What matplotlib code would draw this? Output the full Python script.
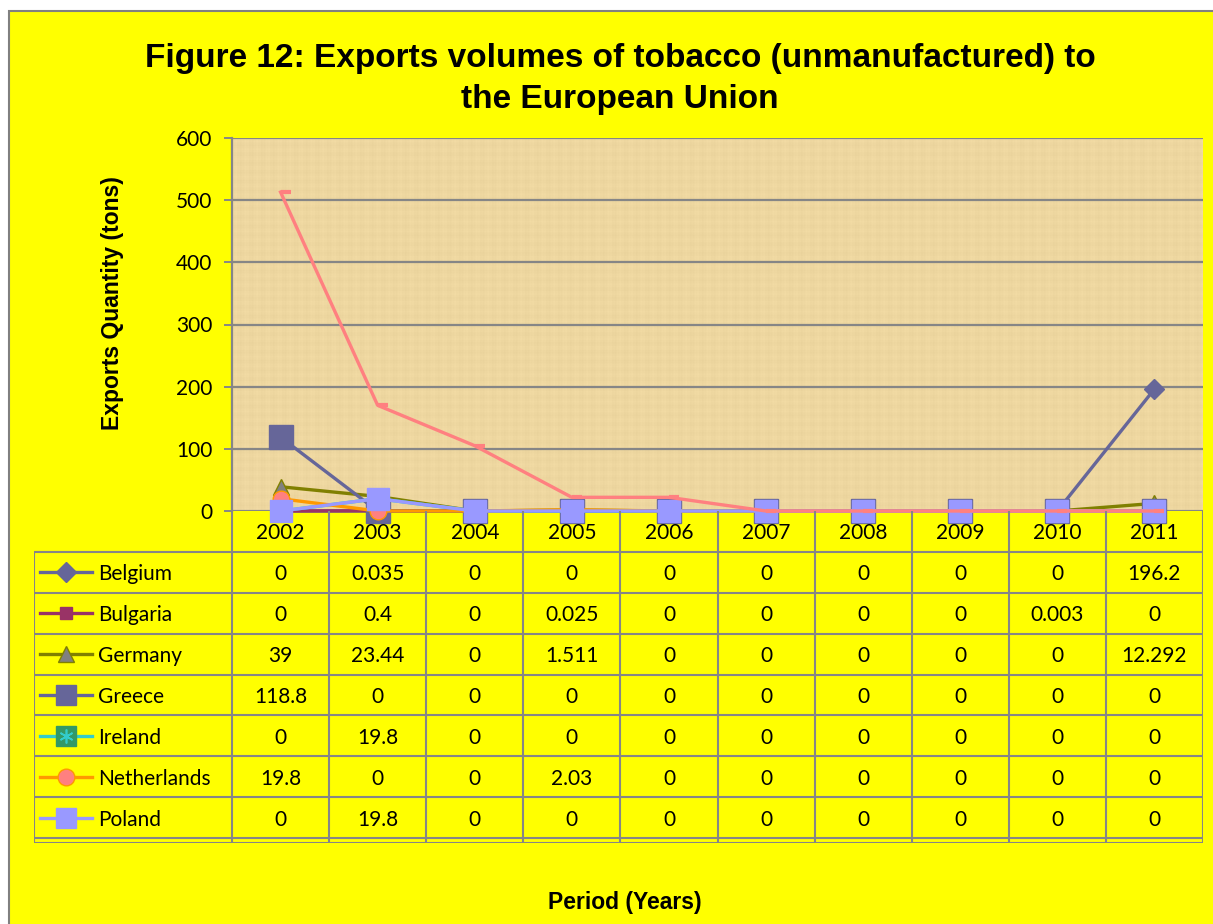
import numpy as np
import matplotlib
matplotlib.use("Agg")
import matplotlib.pyplot as plt
from matplotlib.patches import Rectangle
from matplotlib.path import Path

years = [2002, 2003, 2004, 2005, 2006, 2007, 2008, 2009, 2010, 2011]
belgium = [0, 0.035, 0, 0, 0, 0, 0, 0, 0, 196.2]
bulgaria = [0, 0.4, 0, 0.025, 0, 0, 0, 0, 0.003, 0]
germany = [39, 23.44, 0, 1.511, 0, 0, 0, 0, 0, 12.292]
greece = [118.8, 0, 0, 0, 0, 0, 0, 0, 0, 0]
ireland = [0, 19.8, 0, 0, 0, 0, 0, 0, 0, 0]
netherlands = [19.8, 0, 0, 2.03, 0, 0, 0, 0, 0, 0]
poland = [0, 19.8, 0, 0, 0, 0, 0, 0, 0, 0]
# eighth series: drawn on the chart, its table row is cut off
unlisted = [513, 170, 105, 22, 22, 0, 0, 0, 0, 0]

names = ["Belgium", "Bulgaria", "Germany", "Greece", "Ireland", "Netherlands", "Poland"]
series = [belgium, bulgaria, germany, greece, ireland, netherlands, poland]

styles = [
    dict(color="#666699", marker="D", ms=10, mfc="#666699", mec="#666699"),
    dict(color="#993366", marker="s", ms=8, mfc="#993366", mec="#993366"),
    dict(color="#808000", marker="^", ms=12, mfc="#808080", mec="#808000"),
    dict(color="#666699", marker="s", ms=17, mfc="#666699", mec="#666699"),
    dict(color="#33CCCC", marker="s", ms=15, mfc="#339966", mec="#339966"),
    dict(color="#FF9900", marker="o", ms=12, mfc="#FF8080", mec="#FF9900"),
    dict(color="#9999FF", marker="s", ms=16, mfc="#9999FF", mec="#9999FF"),
]

W, H = 1213, 924
CELL_FONT = "Lato"
HEAD_FONT = "Liberation Sans"
GRID = "#868686"
FS = 15

fig = plt.figure(figsize=(W / 100, H / 100), dpi=100)
fig.patch.set_facecolor("white")
fig.add_artist(Rectangle((9 / W, -0.05), 1.1, 1 - 11 / H + 0.05, transform=fig.transFigure,
                         facecolor="#FFFF00", edgecolor="#808080", lw=1.5, zorder=-10))

ax = fig.add_axes([232 / W, 1 - 511 / H, 971 / W, 373 / H])

# papyrus-like background of the plot area
yy, xx = np.mgrid[0:373, 0:971]
shade = (0.4 * np.sin(xx * 2 * np.pi / 11.0) + 0.3 * np.sin(xx * 2 * np.pi / 3.0)
         + 0.4 * np.sin(yy * 2 * np.pi / 9.0) + 0.2 * np.sin(yy * 2 * np.pi / 2.5))
base = np.array([238, 215, 160]) / 255.0
tex = np.clip(base[None, None, :] + 0.015 * shade[:, :, None], 0, 1)
ax.imshow(tex, extent=(-0.5, 9.5, 0, 600), aspect="auto", zorder=0, interpolation="nearest")

ax.set_xlim(-0.5, 9.5)
ax.set_ylim(0, 600)
ax.set_yticks(range(0, 601, 100))
ax.set_xticks([])
ax.grid(axis="y", color=GRID, lw=1.6, zorder=1)
for s in ["top", "right", "bottom"]:
    ax.spines[s].set_visible(False)
ax.spines["left"].set_color(GRID)
ax.spines["left"].set_linewidth(1.6)
ax.tick_params(axis="y", length=6, width=1.4, color=GRID, labelsize=FS, pad=8)
for lab in ax.get_yticklabels():
    lab.set_fontfamily(CELL_FONT)

x = np.arange(len(years))
z = 3
for name, vals, st in zip(names, series, styles):
    ax.plot(x, vals, lw=2.4, clip_on=False, zorder=z, **st)
    z += 0.1
    if name == "Ireland":
        ax.plot(x, vals, ls="none", marker=(6, 2, 0), ms=10, mec="#33CCCC", mew=1.2,
                clip_on=False, zorder=z)
        z += 0.1
dash = Path([(0, 0), (1, 0)])
ax.plot(x, unlisted, color="#FF8080", lw=2.4, marker=dash, ms=14, mew=3,
        clip_on=False, zorder=z)

# data table under the plot, sharing the category columns
col_px = 971 / 10
lab_w = 198 / col_px
tax = fig.add_axes([34 / W, 1 - 843 / H, 1169 / W, 332 / H])
tax.axis("off")
x0 = -0.5 - lab_w
tax.set_xlim(x0, 9.5)
tax.set_ylim(8.12, 0)

for k in range(len(years) + 1):
    tax.vlines(k - 0.5, 0, 8.12, color=GRID, lw=1.5)
tax.vlines(x0, 1, 8.12, color=GRID, lw=1.5)
for r in range(1, 9):
    tax.hlines(r, x0, 9.5, color=GRID, lw=1.5)
tax.hlines(8.12, x0, 9.5, color=GRID, lw=1.5)

for i, yr in enumerate(years):
    tax.text(i, 0.55, str(yr), ha="center", va="center", fontsize=FS, family=CELL_FONT)

for r, (name, vals, st) in enumerate(zip(names, series, styles)):
    yc = r + 1.55
    gx = [x0 + 6 / col_px, x0 + 58 / col_px]
    tax.plot(gx, [yc - 0.05, yc - 0.05], color=st["color"], lw=2.4, clip_on=False)
    ms = min(st["ms"], 15)
    tax.plot([np.mean(gx)], [yc - 0.05], ls="none", marker=st["marker"], ms=ms,
             mfc=st["mfc"], mec=st["mec"], clip_on=False)
    if name == "Ireland":
        tax.plot([np.mean(gx)], [yc - 0.05], ls="none", marker=(6, 2, 0), ms=10,
                 mec="#33CCCC", mew=1.2, clip_on=False)
    tax.text(x0 + 64 / col_px, yc, name, ha="left", va="center", fontsize=FS, family=CELL_FONT)
    for i, v in enumerate(vals):
        tax.text(i, yc, f"{v:g}", ha="center", va="center", fontsize=FS, family=CELL_FONT)

fig.text(620 / W, 1 - 79 / H, "Figure 12: Exports volumes of tobacco (unmanufactured) to\nthe European Union",
         ha="center", va="center", fontsize=24, fontweight="bold", family=HEAD_FONT, linespacing=1.4)
fig.text(112 / W, 1 - 303 / H, "Exports Quantity (tons)", rotation=90, ha="center", va="center",
         fontsize=16.5, fontweight="bold", family=HEAD_FONT)
fig.text(625 / W, 1 - 903 / H, "Period (Years)", ha="center", va="center",
         fontsize=16.5, fontweight="bold", family=HEAD_FONT)

fig.savefig("out.png", dpi=100)
